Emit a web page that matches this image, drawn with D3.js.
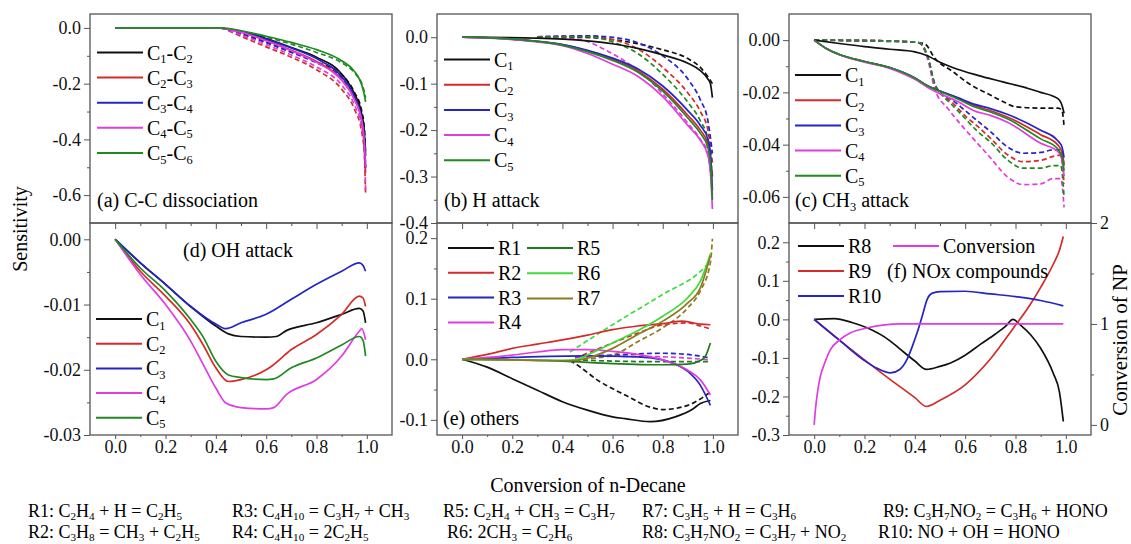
<!DOCTYPE html>
<html>
<head>
<meta charset="utf-8">
<script src="https://cdn.jsdelivr.net/npm/d3@7"></script>
<style>
  body { margin: 0; background: #fff; }
  svg { display: block; }
</style>
</head>
<body>
<div id="chart"></div>
<script>
// ---------- data ----------
const xTicks = [0, 0.2, 0.4, 0.6, 0.8, 1.0];
const xMinor = [0.1, 0.3, 0.5, 0.7, 0.9];

// (a) C-C dissociation
const legendA = ["C_1-C_2", "C_2-C_3", "C_3-C_4", "C_4-C_5", "C_5-C_6"];
const aC1C2 = [[0,0],[0.4,0],[0.45,-0.004],[0.5,-0.012],[0.6,-0.038],[0.7,-0.07],[0.8,-0.105],[0.9,-0.165],[0.95,-0.235],[0.98,-0.31],[0.99,-0.37],[0.995,-0.46]];
const aC2C3 = [[0,0],[0.4,0],[0.45,-0.005],[0.5,-0.015],[0.6,-0.045],[0.7,-0.08],[0.8,-0.12],[0.9,-0.185],[0.95,-0.255],[0.98,-0.335],[0.99,-0.42],[0.995,-0.52]];
const aC3C4 = [[0,0],[0.4,0],[0.45,-0.005],[0.5,-0.013],[0.6,-0.04],[0.7,-0.072],[0.8,-0.11],[0.9,-0.175],[0.95,-0.245],[0.98,-0.33],[0.99,-0.4],[0.995,-0.5]];
const aC4C5 = [[0,0],[0.4,0],[0.45,-0.005],[0.5,-0.015],[0.6,-0.046],[0.7,-0.082],[0.8,-0.123],[0.9,-0.188],[0.95,-0.255],[0.98,-0.335],[0.99,-0.41],[0.995,-0.5]];
const aC5C6 = [[0,0],[0.42,0],[0.5,-0.01],[0.6,-0.03],[0.7,-0.052],[0.8,-0.078],[0.9,-0.118],[0.95,-0.155],[0.98,-0.205],[0.99,-0.24],[0.995,-0.265]];
const aC1C2d = [[0.45,-0.006],[0.5,-0.02],[0.6,-0.05],[0.7,-0.085],[0.8,-0.122],[0.9,-0.168],[0.95,-0.23],[0.98,-0.3],[0.99,-0.36],[0.995,-0.45]];
const aC2C3d = [[0.45,-0.01],[0.5,-0.03],[0.6,-0.068],[0.7,-0.105],[0.8,-0.15],[0.9,-0.22],[0.95,-0.29],[0.98,-0.375],[0.99,-0.45],[0.995,-0.6]];
const aC3C4d = [[0.45,-0.007],[0.5,-0.022],[0.6,-0.053],[0.7,-0.088],[0.8,-0.125],[0.9,-0.18],[0.95,-0.25],[0.98,-0.33],[0.99,-0.4],[0.995,-0.5]];
const aC4C5d = [[0.45,-0.008],[0.5,-0.025],[0.6,-0.06],[0.7,-0.097],[0.8,-0.14],[0.9,-0.205],[0.95,-0.275],[0.98,-0.36],[0.99,-0.43],[0.995,-0.58]];
const aC5C6d = [[0.45,-0.003],[0.5,-0.012],[0.6,-0.033],[0.7,-0.058],[0.8,-0.088],[0.9,-0.125],[0.95,-0.16],[0.98,-0.2],[0.99,-0.23],[0.995,-0.25]];

// (b) H attack
const legendB = ["C_1", "C_2", "C_3", "C_4", "C_5"];
const bC1 = [[0,0],[0.3,-0.002],[0.5,-0.008],[0.6,-0.014],[0.7,-0.024],[0.8,-0.038],[0.9,-0.056],[0.95,-0.072],[0.98,-0.09],[0.99,-0.1],[0.998,-0.13]];
const bC2 = [[0,0],[0.2,-0.004],[0.3,-0.009],[0.4,-0.016],[0.5,-0.03],[0.6,-0.048],[0.7,-0.072],[0.8,-0.112],[0.9,-0.168],[0.95,-0.2],[0.98,-0.23],[0.99,-0.26],[0.998,-0.3]];
const bC3 = [[0,0],[0.2,-0.004],[0.3,-0.009],[0.4,-0.016],[0.5,-0.028],[0.6,-0.045],[0.7,-0.068],[0.8,-0.105],[0.9,-0.158],[0.95,-0.19],[0.98,-0.22],[0.99,-0.25],[0.998,-0.33]];
const bC4 = [[0,0],[0.2,-0.005],[0.3,-0.01],[0.4,-0.018],[0.5,-0.035],[0.6,-0.058],[0.7,-0.084],[0.8,-0.128],[0.9,-0.19],[0.95,-0.222],[0.98,-0.255],[0.99,-0.29],[0.998,-0.37]];
const bC5 = [[0,0],[0.2,-0.004],[0.3,-0.009],[0.4,-0.017],[0.5,-0.031],[0.6,-0.05],[0.7,-0.075],[0.8,-0.116],[0.9,-0.174],[0.95,-0.207],[0.98,-0.238],[0.99,-0.27],[0.998,-0.35]];
const bC1d = [[0.3,0],[0.45,0],[0.6,-0.005],[0.7,-0.014],[0.8,-0.027],[0.9,-0.046],[0.95,-0.065],[0.98,-0.085],[0.998,-0.1]];
const bC2d = [[0.3,0.001],[0.5,0.002],[0.6,-0.005],[0.7,-0.025],[0.8,-0.065],[0.9,-0.12],[0.95,-0.16],[0.98,-0.2],[0.998,-0.27]];
const bC3d = [[0.3,0.001],[0.5,0.003],[0.6,0],[0.7,-0.012],[0.8,-0.04],[0.9,-0.09],[0.95,-0.135],[0.98,-0.18],[0.998,-0.25]];
const bC4d = [[0.3,0],[0.46,-0.004],[0.57,-0.027],[0.65,-0.052],[0.73,-0.084],[0.8,-0.122],[0.9,-0.185],[0.95,-0.22],[0.98,-0.25],[0.998,-0.34]];
const bC5d = [[0.3,0.001],[0.5,0.001],[0.6,-0.01],[0.7,-0.035],[0.8,-0.08],[0.9,-0.14],[0.95,-0.18],[0.98,-0.22],[0.998,-0.3]];

// (c) CH3 attack
const legendC = ["C_1", "C_2", "C_3", "C_4", "C_5"];
const cC1 = [[0,0],[0.1,-0.0013],[0.2,-0.0025],[0.3,-0.0035],[0.4,-0.0045],[0.45,-0.006],[0.5,-0.0085],[0.55,-0.0105],[0.65,-0.0135],[0.75,-0.016],[0.85,-0.0185],[0.9,-0.02],[0.95,-0.0215],[0.975,-0.023],[0.985,-0.025],[0.993,-0.028]];
const cC2 = [[0,0],[0.05,-0.0033],[0.1,-0.0055],[0.2,-0.0082],[0.3,-0.0105],[0.4,-0.0145],[0.45,-0.0175],[0.5,-0.0195],[0.57,-0.0222],[0.635,-0.025],[0.7,-0.027],[0.77,-0.0295],[0.9,-0.0362],[0.967,-0.04],[0.985,-0.043],[0.993,-0.048]];
const cC3 = [[0,0],[0.05,-0.0033],[0.1,-0.0055],[0.2,-0.0082],[0.3,-0.0105],[0.4,-0.0145],[0.45,-0.0175],[0.5,-0.0195],[0.57,-0.022],[0.635,-0.0245],[0.7,-0.0262],[0.77,-0.0285],[0.9,-0.0345],[0.967,-0.0384],[0.985,-0.041],[0.993,-0.045]];
const cC4 = [[0,0],[0.05,-0.0033],[0.1,-0.0056],[0.2,-0.0084],[0.3,-0.0108],[0.4,-0.015],[0.45,-0.018],[0.5,-0.0205],[0.57,-0.0235],[0.635,-0.027],[0.7,-0.0288],[0.77,-0.0315],[0.9,-0.0395],[0.967,-0.0425],[0.985,-0.046],[0.993,-0.052]];
const cC5 = [[0,0],[0.05,-0.0033],[0.1,-0.0055],[0.2,-0.0082],[0.3,-0.0105],[0.4,-0.0145],[0.45,-0.0175],[0.5,-0.0197],[0.57,-0.0225],[0.635,-0.0255],[0.7,-0.0275],[0.77,-0.0302],[0.9,-0.0378],[0.967,-0.0415],[0.985,-0.045],[0.993,-0.05]];
const cC1d = [[0,0],[0.2,-0.0003],[0.4,-0.0008],[0.44,-0.0015],[0.48,-0.007],[0.55,-0.012],[0.62,-0.017],[0.7,-0.021],[0.75,-0.0235],[0.8,-0.0255],[0.9,-0.026],[0.97,-0.026],[0.985,-0.027],[0.993,-0.033]];
const cC2d = [[0,0],[0.3,-0.0003],[0.4,-0.0008],[0.42,-0.0012],[0.45,-0.006],[0.48,-0.017],[0.5,-0.02],[0.55,-0.024],[0.6,-0.029],[0.65,-0.033],[0.7,-0.0375],[0.77,-0.044],[0.83,-0.0465],[0.9,-0.046],[0.95,-0.0445],[0.98,-0.044],[0.993,-0.055]];
const cC3d = [[0,0],[0.3,-0.0003],[0.4,-0.0008],[0.42,-0.0012],[0.45,-0.006],[0.48,-0.017],[0.5,-0.02],[0.55,-0.023],[0.6,-0.027],[0.65,-0.031],[0.7,-0.035],[0.77,-0.041],[0.83,-0.0433],[0.9,-0.043],[0.95,-0.042],[0.98,-0.042],[0.993,-0.048]];
const cC4d = [[0,0],[0.3,-0.0003],[0.4,-0.0008],[0.42,-0.0012],[0.45,-0.007],[0.48,-0.019],[0.53,-0.026],[0.58,-0.032],[0.635,-0.038],[0.7,-0.045],[0.77,-0.0525],[0.83,-0.0553],[0.9,-0.055],[0.95,-0.053],[0.98,-0.053],[0.993,-0.064]];
const cC5d = [[0,0],[0.3,-0.0003],[0.4,-0.0008],[0.42,-0.0012],[0.45,-0.006],[0.48,-0.017],[0.5,-0.02],[0.55,-0.025],[0.6,-0.03],[0.65,-0.035],[0.7,-0.039],[0.77,-0.046],[0.83,-0.049],[0.9,-0.049],[0.95,-0.048],[0.98,-0.048],[0.993,-0.06]];

// (d) OH attack
const legendD = ["C_1", "C_2", "C_3", "C_4", "C_5"];
const dC1 = [[0,0],[0.1,-0.0036],[0.2,-0.0069],[0.3,-0.0103],[0.4,-0.0133],[0.45,-0.0145],[0.5,-0.0149],[0.6,-0.015],[0.64,-0.0149],[0.68,-0.014],[0.8,-0.0128],[0.9,-0.0115],[0.97,-0.0106],[0.985,-0.011],[0.995,-0.0128]];
const dC2 = [[0,0],[0.1,-0.0049],[0.2,-0.0087],[0.3,-0.0131],[0.35,-0.0162],[0.4,-0.0197],[0.45,-0.0218],[0.5,-0.0215],[0.6,-0.02],[0.62,-0.0195],[0.7,-0.0169],[0.8,-0.0146],[0.9,-0.0115],[0.97,-0.0087],[0.985,-0.009],[0.995,-0.0103]];
const dC3 = [[0,0],[0.1,-0.0036],[0.2,-0.0069],[0.3,-0.0103],[0.4,-0.013],[0.44,-0.0137],[0.5,-0.0128],[0.6,-0.0115],[0.7,-0.0092],[0.8,-0.0069],[0.9,-0.0049],[0.97,-0.0036],[0.985,-0.004],[0.995,-0.0049]];
const dC4 = [[0,0],[0.1,-0.0054],[0.2,-0.01],[0.3,-0.0156],[0.35,-0.0192],[0.4,-0.0228],[0.44,-0.0251],[0.5,-0.0258],[0.6,-0.026],[0.63,-0.0258],[0.68,-0.0238],[0.8,-0.0215],[0.9,-0.0179],[0.97,-0.0141],[0.98,-0.0137],[0.995,-0.0154]];
const dC5 = [[0,0],[0.1,-0.0044],[0.2,-0.0079],[0.3,-0.0123],[0.35,-0.015],[0.4,-0.0187],[0.45,-0.0208],[0.5,-0.0212],[0.6,-0.0215],[0.63,-0.0214],[0.7,-0.0197],[0.8,-0.0182],[0.9,-0.0162],[0.97,-0.0149],[0.985,-0.0155],[0.995,-0.0179]];

// (e) others
const legendE = ["R1", "R2", "R3", "R4", "R5", "R6", "R7"];
const eR1 = [[0,0],[0.1,-0.013],[0.2,-0.032],[0.3,-0.051],[0.4,-0.07],[0.5,-0.084],[0.6,-0.095],[0.65,-0.098],[0.75,-0.103],[0.85,-0.095],[0.92,-0.082],[0.95,-0.073],[0.99,-0.068]];
const eR2 = [[0,0],[0.1,0.008],[0.2,0.018],[0.3,0.025],[0.4,0.032],[0.5,0.04],[0.6,0.049],[0.7,0.055],[0.8,0.059],[0.88,0.063],[0.95,0.058],[0.99,0.057]];
const eR3 = [[0,0],[0.2,0.003],[0.5,0.0056],[0.7,0.004],[0.8,-0.001],[0.85,-0.008],[0.9,-0.02],[0.95,-0.043],[0.99,-0.076]];
const eR4 = [[0,0],[0.1,0.003],[0.2,0.007],[0.3,0.012],[0.4,0.016],[0.5,0.016],[0.6,0.013],[0.7,0.008],[0.8,-0.001],[0.9,-0.018],[0.95,-0.034],[0.99,-0.059]];
const eR5 = [[0,0],[0.2,-0.001],[0.4,-0.003],[0.6,-0.007],[0.8,-0.009],[0.9,-0.008],[0.95,-0.002],[0.97,0.005],[0.99,0.027]];
const eR6 = [[0,0],[0.2,-0.001],[0.4,-0.002],[0.45,-0.001],[0.5,0.007],[0.6,0.027],[0.7,0.047],[0.8,0.071],[0.9,0.102],[0.95,0.129],[0.99,0.174]];
const eR7 = [[0,0],[0.2,-0.001],[0.4,-0.002],[0.45,-0.002],[0.5,0.002],[0.6,0.018],[0.7,0.041],[0.8,0.063],[0.9,0.093],[0.95,0.118],[0.99,0.171]];
const eR1d = [[0.43,-0.002],[0.45,-0.007],[0.55,-0.037],[0.65,-0.059],[0.75,-0.079],[0.8,-0.083],[0.9,-0.076],[0.99,-0.054]];
const eR2d = [[0.45,0.002],[0.5,0.01],[0.6,0.027],[0.7,0.043],[0.8,0.057],[0.9,0.06],[0.95,0.055],[0.99,0.05]];
const eR3d = [[0.45,0.004],[0.6,0.007],[0.8,0.01],[0.9,0.008],[0.99,0.002]];
const eR4d = [[0.45,0.004],[0.6,0.005],[0.8,0.004],[0.9,0.002],[0.99,-0.001]];
const eR5d = [[0.45,-0.001],[0.6,-0.003],[0.8,-0.004],[0.99,-0.004]];
const eR6d = [[0.43,0.012],[0.6,0.057],[0.8,0.107],[0.95,0.145],[0.99,0.162]];
const eR7d = [[0.45,-0.001],[0.6,0.007],[0.7,0.029],[0.8,0.052],[0.9,0.085],[0.95,0.113],[0.99,0.16],[0.998,0.199]];

// (f) NOx compounds
const legendF = ["R8", "R9", "R10", "Conversion"];
const fR8 = [[0,0],[0.08,0.002],[0.15,-0.008],[0.21,-0.022],[0.3,-0.055],[0.343,-0.078],[0.4,-0.108],[0.446,-0.13],[0.5,-0.122],[0.542,-0.113],[0.6,-0.093],[0.66,-0.065],[0.72,-0.038],[0.76,-0.018],[0.79,0],[0.82,-0.015],[0.86,-0.04],[0.9,-0.075],[0.95,-0.14],[0.975,-0.19],[0.99,-0.265]];
const fR9 = [[0,0],[0.1,-0.054],[0.2,-0.105],[0.3,-0.155],[0.4,-0.203],[0.446,-0.226],[0.5,-0.21],[0.6,-0.17],[0.7,-0.103],[0.8,-0.015],[0.85,0.03],[0.9,0.083],[0.95,0.143],[0.975,0.18],[0.99,0.215]];
const fR10 = [[0,0],[0.1,-0.054],[0.2,-0.107],[0.25,-0.127],[0.303,-0.139],[0.34,-0.13],[0.369,-0.104],[0.39,-0.07],[0.409,-0.035],[0.43,0.01],[0.449,0.052],[0.47,0.068],[0.5,0.072],[0.6,0.073],[0.7,0.066],[0.8,0.059],[0.9,0.049],[0.99,0.035]];
const fConv = [[0,0],[0.005,0.15],[0.012,0.3],[0.024,0.476],[0.04,0.6],[0.064,0.743],[0.1,0.84],[0.143,0.91],[0.21,0.96],[0.28,0.99],[0.343,1.0],[0.99,1.0]];

const reactions = [
  "R1: C_2H_4 + H = C_2H_5", "R2: C_3H_8 = CH_3 + C_2H_5",
  "R3: C_4H_10 = C_3H_7 + CH_3", "R4: C_4H_10 = 2C_2H_5",
  "R5: C_2H_4 + CH_3 = C_3H_7", "R6: 2CH_3 = C_2H_6",
  "R7: C_3H_5 + H = C_3H_6", "R8: C_3H_7NO_2 = C_3H_7 + NO_2",
  "R9: C_3H_7NO_2 = C_3H_6 + HONO", "R10: NO + OH = HONO"
];

// ---------- drawing ----------
const FONT = '"Liberation Serif", "Times New Roman", Tinos, Times, "DejaVu Serif", serif';
const col = {
  black: "#111", red: "#d62a2a", blue: "#2424c8", magenta: "#e03ce0", green: "#1f8a1f",
  dkgreen: "#1e7a1e", ltgreen: "#3cdc3c", olive: "#8c7a1e", frame: "#555"
};
const fmt = d3.formatLocale({decimal: ".", thousands: ",", grouping: [3], currency: ["", ""], minus: "-"}).format;

const width = 1131, height = 544;
const svg = d3.select("#chart").append("svg")
  .attr("width", width)
  .attr("height", height)
  .attr("font-family", FONT)
  .style("white-space", "pre");

// text with subscripts: "_12" -> subscript 12
function richText(sel, str, size) {
  const parts = str.split(/_(\d+)/);
  let down = 0;
  parts.forEach((p, i) => {
    if (p === "") return;
    const sub = i % 2 === 1;
    const shift = sub ? size * 0.18 : 0;
    sel.append("tspan")
      .attr("font-size", sub ? size * 0.62 : size)
      .attr("dy", shift - down)
      .text(p);
    down = shift;
  });
}

const lineGen = (x, y) => d3.line()
  .x(d => x(d[0]))
  .y(d => y(d[1]))
  .curve(d3.curveMonotoneX);

function drawPanel(p) {
  const x = d3.scaleLinear().domain([-0.1, 1.1]).range([p.left, p.right]);
  const y = d3.scaleLinear().domain(p.ydom).range([p.bottom, p.top]);
  const g = svg.append("g");

  // x axis (major + minor)
  const xa = g.append("g").attr("transform", `translate(0,${p.bottom})`)
    .call(d3.axisBottom(x).tickValues(xTicks).tickSize(p.xlabels ? 4 : 6).tickSizeOuter(0)
      .tickFormat(p.xlabels ? fmt(".1f") : ""));
  xa.append("g").call(d3.axisBottom(x).tickValues(xMinor).tickSize(p.xlabels ? 2 : 3).tickSizeOuter(0).tickFormat(""));
  xa.selectAll(".domain").remove();
  xa.selectAll("text").attr("y", 5);

  // y axis
  const ya = g.append("g").attr("transform", `translate(${p.left},0)`)
    .call(d3.axisLeft(y).tickValues(p.yticks).tickSize(6).tickPadding(3).tickSizeOuter(0)
      .tickFormat(fmt(p.yfmt)));
  ya.append("g").call(d3.axisLeft(y).tickValues(p.yminor).tickSize(3).tickSizeOuter(0).tickFormat(""));
  ya.selectAll(".domain").remove();

  let y2 = null;
  if (p.y2) {
    y2 = d3.scaleLinear().domain(p.y2.dom).range([p.bottom, p.top]);
    const ra = g.append("g").attr("transform", `translate(${p.right},0)`)
      .call(d3.axisRight(y2).tickValues(p.y2.ticks).tickSize(6).tickPadding(3).tickSizeOuter(0)
        .tickFormat(fmt("d")));
    ra.append("g").call(d3.axisRight(y2).tickValues(p.y2.minor).tickSize(3).tickSizeOuter(0).tickFormat(""));
    ra.selectAll(".domain").remove();
  }
  g.selectAll("g").attr("font-family", null).attr("font-size", null);
  g.selectAll(".tick line").attr("stroke", col.frame);
  g.selectAll(".tick text").attr("fill", "#111").attr("font-size", 18);

  // curves: dashed first, solid on top
  const series = p.series.slice().sort((a, b) => (b.dash ? 1 : 0) - (a.dash ? 1 : 0));
  series.forEach(s => {
    const yy = s.right ? y2 : y;
    g.append("path")
      .attr("d", lineGen(x, yy)(s.data))
      .attr("fill", "none")
      .attr("stroke", s.color)
      .attr("stroke-width", 1.7)
      .attr("stroke-dasharray", s.dash ? "5,3" : null);
  });

  // frame
  g.append("rect")
    .attr("x", p.left).attr("y", p.top)
    .attr("width", p.right - p.left).attr("height", p.bottom - p.top)
    .attr("fill", "none").attr("stroke", col.frame).attr("stroke-width", 1.3);

  // legend
  p.legend.forEach(L => {
    L.items.forEach((it, i) => {
      const cy = L.y + i * L.dy;
      g.append("line")
        .attr("x1", L.x).attr("x2", L.x + 46)
        .attr("y1", cy).attr("y2", cy)
        .attr("stroke", it.color).attr("stroke-width", 2);
      const t = g.append("text").attr("x", L.x + 50).attr("y", cy + 7).attr("font-size", 20);
      richText(t, it.label, 20);
    });
  });

  const t = g.append("text").attr("x", p.label.x).attr("y", p.label.y).attr("font-size", 20);
  richText(t, p.label.text, 20);
}

const cols5 = [col.black, col.red, col.blue, col.magenta, col.green];
const cellsOf = (labels, colors) => labels.map((l, i) => ({label: l, color: colors[i]}));
const pack = (arrs, colors, dash) => arrs.map((d, i) => ({data: d, color: colors[i], dash: dash}));
const cols7 = [col.black, col.red, col.blue, col.magenta, col.dkgreen, col.ltgreen, col.olive];

const panels = [
  {
    left: 90, right: 392, top: 14, bottom: 223, ydom: [-0.7, 0.05],
    yticks: [0, -0.2, -0.4, -0.6], yminor: [-0.1, -0.3, -0.5], yfmt: ".1f", xlabels: false,
    series: pack([aC1C2, aC2C3, aC3C4, aC4C5, aC5C6], cols5, false)
      .concat(pack([aC1C2d, aC2C3d, aC3C4d, aC4C5d, aC5C6d], cols5, true)),
    legend: [{x: 97, y: 52.5, dy: 25.1, items: cellsOf(legendA, cols5)}],
    label: {text: "(a) C-C dissociation", x: 97, y: 207}
  },
  {
    left: 437, right: 738, top: 14, bottom: 223, ydom: [-0.4, 0.05],
    yticks: [0, -0.1, -0.2, -0.3, -0.4], yminor: [-0.05, -0.15, -0.25, -0.35], yfmt: ".1f", xlabels: false,
    series: pack([bC1, bC2, bC3, bC4, bC5], cols5, false)
      .concat(pack([bC1d, bC2d, bC3d, bC4d, bC5d], cols5, true)),
    legend: [{x: 444, y: 59.5, dy: 25.2, items: cellsOf(legendB, cols5)}],
    label: {text: "(b) H attack", x: 444, y: 207}
  },
  {
    left: 789, right: 1091, top: 14, bottom: 223, ydom: [-0.07, 0.01],
    yticks: [0, -0.02, -0.04, -0.06], yminor: [-0.01, -0.03, -0.05], yfmt: ".2f", xlabels: false,
    series: pack([cC1, cC2, cC3, cC4, cC5], cols5, false)
      .concat(pack([cC1d, cC2d, cC3d, cC4d, cC5d], cols5, true)),
    legend: [{x: 795, y: 75, dy: 25.2, items: cellsOf(legendC, cols5)}],
    label: {text: "(c) CH_3 attack", x: 795, y: 207}
  },
  {
    left: 90, right: 392, top: 223, bottom: 435, ydom: [-0.03, 0.0025],
    yticks: [0, -0.01, -0.02, -0.03], yminor: [-0.005, -0.015, -0.025], yfmt: ".2f", xlabels: true,
    series: pack([dC1, dC2, dC3, dC4, dC5], cols5, false),
    legend: [{x: 96, y: 319, dy: 24.7, items: cellsOf(legendD, cols5)}],
    label: {text: "(d) OH attack", x: 183, y: 257}
  },
  {
    left: 437, right: 738, top: 223, bottom: 435, ydom: [-0.125, 0.225],
    yticks: [0.2, 0.1, 0, -0.1], yminor: [0.15, 0.05, -0.05], yfmt: ".1f", xlabels: true,
    series: pack([eR1, eR2, eR3, eR4, eR5, eR6, eR7], cols7, false)
      .concat(pack([eR1d, eR2d, eR3d, eR4d, eR5d, eR6d, eR7d], cols7, true)),
    legend: [
      {x: 448, y: 248, dy: 24.8, items: cellsOf(legendE.slice(0, 4), cols7.slice(0, 4))},
      {x: 527, y: 248, dy: 25.2, items: cellsOf(legendE.slice(4), cols7.slice(4))}
    ],
    label: {text: "(e) others", x: 443, y: 425}
  },
  {
    left: 789, right: 1091, top: 223, bottom: 435, ydom: [-0.3, 0.25],
    yticks: [0.2, 0.1, 0, -0.1, -0.2, -0.3], yminor: [0.15, 0.05, -0.05, -0.15, -0.25], yfmt: ".1f", xlabels: true,
    y2: {dom: [-0.1, 2.0], ticks: [0, 1, 2], minor: [0.5, 1.5]},
    series: pack([fR8, fR9, fR10], [col.black, col.red, col.blue], false)
      .concat([{data: fConv, color: col.magenta, dash: false, right: true}]),
    legend: [
      {x: 798, y: 246, dy: 25, items: cellsOf(legendF.slice(0, 3), [col.black, col.red, col.blue])},
      {x: 893, y: 246, dy: 25, items: cellsOf(legendF.slice(3), [col.magenta])}
    ],
    label: {text: "(f) NOx compounds", x: 887, y: 278}
  }
];

panels.forEach(drawPanel);

// axis titles
svg.append("text")
  .attr("transform", "translate(27,229) rotate(-90)")
  .attr("text-anchor", "middle").attr("font-size", 20)
  .text("Sensitivity");
svg.append("text")
  .attr("transform", "translate(1127,340) rotate(-90)")
  .attr("text-anchor", "middle").attr("font-size", 21)
  .text("Conversion of NP");
svg.append("text")
  .attr("x", 588).attr("y", 492)
  .attr("text-anchor", "middle").attr("font-size", 20)
  .text("Conversion of n-Decane");

// reaction list
const rxX = [28, 232, 443, 642, 883];
const rxY = [517, 538];
reactions.forEach((r, i) => {
  const c = Math.floor(i / 2), row = i % 2;
  let xx = rxX[c];
  if (i === 5) xx = 447;
  if (i === 9) xx = 878;
  const t = svg.append("text").attr("x", xx).attr("y", rxY[row]).attr("font-size", 18);
  richText(t, r, 18);
});
</script>
</body>
</html>
